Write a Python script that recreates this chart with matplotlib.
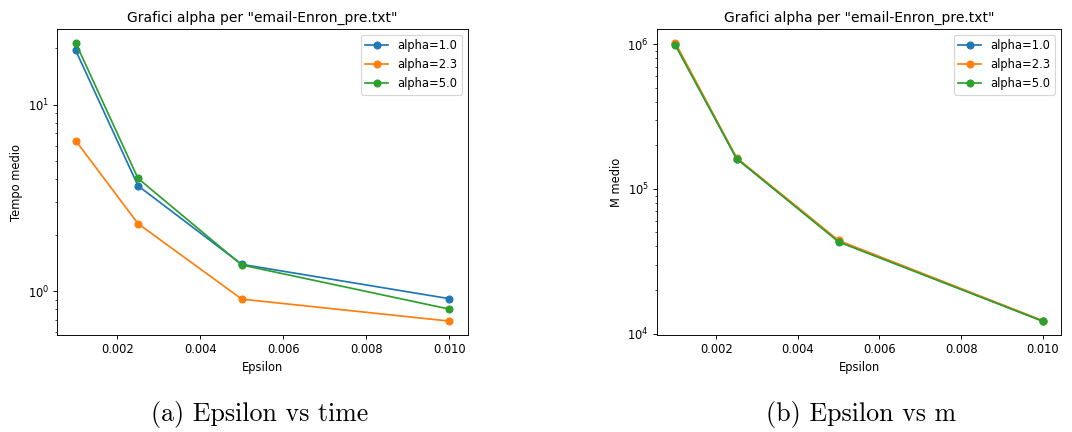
import matplotlib
matplotlib.use('Agg')
import matplotlib.pyplot as plt
import numpy as np

# data
epsilon = [0.001, 0.0025, 0.005, 0.01]
alphas = ['alpha=1.0', 'alpha=2.3', 'alpha=5.0']

tempo = [
    [19.5, 3.67, 1.39, 0.91],   # alpha=1.0
    [6.4, 2.30, 0.905, 0.69],   # alpha=2.3
    [21.4, 4.02, 1.38, 0.80],   # alpha=5.0
]

m_medio = [
    [1.0e6, 1.62e5, 4.35e4, 1.22e4],   # alpha=1.0
    [1.02e6, 1.64e5, 4.40e4, 1.23e4],  # alpha=2.3
    [0.98e6, 1.62e5, 4.30e4, 1.22e4],  # alpha=5.0
]

title = 'Grafici alpha per "email-Enron_pre.txt"'
captions = ['(a) Epsilon vs time', '(b) Epsilon vs m']

#plot figure
dpi = 83
fig = plt.figure(figsize=(1072/dpi, 432/dpi), dpi=dpi)

ax1 = fig.add_axes([0.0532, 0.2245, 0.3834, 0.7083])
for i in range(len(alphas)):
    ax1.plot(epsilon, tempo[i], marker='o', label=alphas[i])
ax1.set_yscale('log')
ax1.set_title(title)
ax1.set_xlabel('Epsilon')
ax1.set_ylabel('Tempo medio')
ax1.legend(loc='upper right')

ax2 = fig.add_axes([0.6129, 0.2245, 0.3769, 0.7083])
for i in range(len(alphas)):
    ax2.plot(epsilon, m_medio[i], marker='o', label=alphas[i])
ax2.set_yscale('log')
ax2.set_title(title)
ax2.set_xlabel('Epsilon')
ax2.set_ylabel('M medio')
ax2.legend(loc='upper right')

#captions below the two panels
fig.text(260/1072, 1 - 415/432, captions[0], family='cmr10', fontsize=22.5,
         ha='center', va='center')
fig.text(861/1072, 1 - 415/432, captions[1], family='cmr10', fontsize=22.5,
         ha='center', va='center')

fig.savefig('out.png', dpi=dpi)
